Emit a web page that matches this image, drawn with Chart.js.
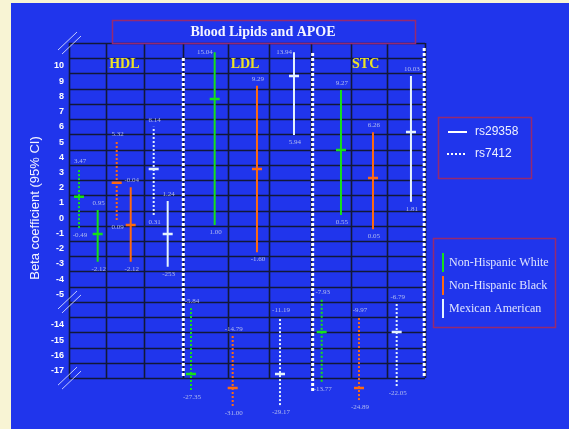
<!DOCTYPE html>
<html>
<head>
<meta charset="utf-8">
<title>Blood Lipids and APOE</title>
<script src="https://cdn.jsdelivr.net/npm/chart.js@4.4.1/dist/chart.umd.min.js"></script>
<style>
  html, body { margin: 0; padding: 0; background: #f8f4d4; }
  canvas { display: block; }
</style>
</head>
<body>
<canvas id="chart" width="569" height="429"></canvas>
<script>
// Blood lipids and APOE - beta coefficients (95% CI)
// The y axis is broken: plotted positions above -5 are the axis value,
// below the break position -7 stands for -14, -8 for -15 and so on.

const GROUPS = ['HDL', 'LDL', 'STC'];
const ETHNICITIES = ['Non-Hispanic White', 'Non-Hispanic Black', 'Mexican American'];
const SNPS = ['rs29358', 'rs7412'];

// rs29358 (solid), order: HDL NHW/NHB/MA, LDL ..., STC ...
const rs29358X = [0.725, 1.56, 2.495, 3.683, 4.752, 5.688, 6.876, 7.685, 8.645];
const rs29358High = [0.53, 2.03, 1.13, 10.89, 8.70, 10.89, 8.41, 5.64, 9.33];
const rs29358Mean = [-1.04, -0.45, -1.04, 7.82, 3.23, 9.33, 4.47, 2.64, 5.66];
const rs29358Low = [-2.86, -2.86, -3.19, -0.45, -2.24, 5.46, 0.21, -0.73, 1.08];
const rs29358HighText = ['0.95', '-0.04', '1.24', '15.04', '9.29', '13.94', '9.27', '6.26', '10.03'];
const rs29358LowText = ['-2.12', '-2.12', '-253', '1.00', '-1.60', '5.94', '0.55', '0.05', '1.81'];

// rs7412 (dotted)
const rs7412X = [0.253, 1.206, 2.141, 3.084, 4.138, 5.334, 6.388, 7.331, 8.284];
const rs7412High = [3.29, 5.07, 6.00, -5.92, -7.74, -6.51, -5.31, -6.51, -5.64];
const rs7412Mean = [1.41, 2.33, 3.23, -10.23, -11.15, -10.23, -7.48, -11.15, -7.48];
const rs7412Low = [-0.65, -0.12, 0.21, -11.28, -12.33, -12.27, -10.74, -11.94, -11.02];
const rs7412HighText = ['3.47', '5.32', '6.14', '-5.84', '-14.79', '-11.19', '-7.93', '-9.97', '-6.79'];
const rs7412LowText = ['-0.49', '0.09', '0.31', '-27.35', '-31.00', '-29.17', '-13.77', '-24.89', '-22.05'];

// column borders and tick labels of the broken axis
const columnEdges = [0, 0.945, 1.89, 2.89, 4.01, 5.06, 6.117, 7.128, 8.03, 9];
const groupLabelX = [1.4, 4.45, 7.5];
const tickLabels = {
    10: '10', 9: '9', 8: '8', 7: '7', 6: '6', 5: '5', 4: '4', 3: '3', 2: '2', 1: '1',
    0: '0', '-1': '-1', '-2': '-2', '-3': '-3', '-4': '-4', '-5': '-5',
    '-7': '-14', '-8': '-15', '-9': '-16', '-10': '-17'
};

const ETH_COLORS = ['#16e01a', '#ff6a10', '#e4f2ff'];
const BLUE = '#2035ec';
const GRID = '#121838';
const BOX = '#962a70';
const LABEL_COLOR = 'rgba(200,208,240,0.85)';

function buildDatasets() {
    const sets = [];
    const series = [
        { x: rs29358X, hi: rs29358High, mean: rs29358Mean, lo: rs29358Low, dash: [] },
        { x: rs7412X, hi: rs7412High, mean: rs7412Mean, lo: rs7412Low, dash: [2, 2] }
    ];
    series.forEach((s) => {
        s.x.forEach((x, i) => {
            const color = ETH_COLORS[i % 3];
            sets.push({
                type: 'line',
                data: [{ x: x, y: s.lo[i] }, { x: x, y: s.hi[i] }],
                borderColor: color,
                borderWidth: 2,
                borderDash: s.dash,
                pointRadius: 0
            });
            sets.push({
                type: 'scatter',
                data: [{ x: x, y: s.mean[i] }],
                pointStyle: 'line',
                pointRadius: 5,
                borderColor: color,
                borderWidth: 2.5,
                backgroundColor: color
            });
        });
    });
    return sets;
}

const backdrop = {
    id: 'backdrop',
    beforeDraw(chart) {
        const ctx = chart.ctx;
        ctx.save();
        ctx.fillStyle = '#f8f4d4';
        ctx.fillRect(0, 0, chart.width, chart.height);
        ctx.fillStyle = BLUE;
        ctx.fillRect(11, 3, chart.width - 11, chart.height - 3);
        ctx.restore();
    },
    beforeDatasetsDraw(chart) {
        const { ctx, scales: { x, y } } = chart;
        const top = y.getPixelForValue(11.5);
        const bottom = y.getPixelForValue(-10.5);
        const left = x.getPixelForValue(0);
        const right = x.getPixelForValue(9);
        ctx.save();
        ctx.strokeStyle = GRID;
        ctx.lineWidth = 1.6;
        for (let v = 11.5; v >= -10.5; v -= 1) {
            const py = Math.round(y.getPixelForValue(v)) + 0.5;
            ctx.beginPath();
            ctx.moveTo(left, py);
            ctx.lineTo(right, py);
            ctx.stroke();
        }
        columnEdges.forEach(c => {
            const px = Math.round(x.getPixelForValue(c)) + 0.5;
            ctx.beginPath();
            ctx.moveTo(px, top);
            ctx.lineTo(px, bottom);
            ctx.stroke();
        });

        // white dotted separators between the lipid groups
        ctx.strokeStyle = '#ffffff';
        ctx.lineWidth = 3;
        ctx.setLineDash([3, 2]);
        [[2.89, 10.52, -10.5], [6.16, 10.84, -11.42], [8.98, 11.17, -10.5]].forEach(([c, a, b]) => {
            const px = x.getPixelForValue(c);
            ctx.beginPath();
            ctx.moveTo(px, y.getPixelForValue(a));
            ctx.lineTo(px, y.getPixelForValue(b));
            ctx.stroke();
        });
        ctx.setLineDash([]);

        // axis break marks
        ctx.strokeStyle = 'rgba(225,230,255,0.85)';
        ctx.lineWidth = 1;
        [11.5, -5.5, -10.5].forEach(v => {
            const py = y.getPixelForValue(v);
            [-2, 2].forEach(o => {
                ctx.beginPath();
                ctx.moveTo(left - 9 + o, py + 9 + o);
                ctx.lineTo(left + 10 + o, py - 9 + o);
                ctx.stroke();
            });
        });

        // group names
        ctx.fillStyle = '#ece326';
        ctx.font = 'bold 14px "Liberation Serif", serif';
        ctx.textAlign = 'center';
        ctx.textBaseline = 'middle';
        GROUPS.forEach((g, i) => {
            ctx.fillText(g, x.getPixelForValue(groupLabelX[i]), y.getPixelForValue(10.1));
        });
        ctx.restore();
    },
    afterDatasetsDraw(chart) {
        const { ctx, scales: { x, y } } = chart;
        const topLimit = y.getPixelForValue(11.2);
        ctx.save();
        ctx.fillStyle = LABEL_COLOR;
        ctx.font = '7px "Liberation Serif", serif';
        ctx.textBaseline = 'middle';
        const series = [
            [rs29358X, rs29358High, rs29358Low, rs29358HighText, rs29358LowText],
            [rs7412X, rs7412High, rs7412Low, rs7412HighText, rs7412LowText]
        ];
        series.forEach(([xs, hi, lo, hiText, loText]) => {
            xs.forEach((v, i) => {
                const px = x.getPixelForValue(v);
                const ph = y.getPixelForValue(hi[i]);
                const pl = y.getPixelForValue(lo[i]);
                if (ph - 7 < topLimit) {
                    ctx.textAlign = 'right';
                    ctx.fillText(hiText[i], px - 2, ph);
                } else {
                    ctx.textAlign = 'center';
                    ctx.fillText(hiText[i], px + 1, ph - 7);
                }
                ctx.textAlign = 'center';
                ctx.fillText(loText[i], px + 1, pl + 7);
            });
        });
        ctx.restore();
    },
    afterDraw(chart) {
        const ctx = chart.ctx;
        ctx.save();
        // title box
        ctx.strokeStyle = BOX;
        ctx.lineWidth = 1.5;
        ctx.strokeRect(112.5, 20.5, 303, 23);
        ctx.fillStyle = '#f4f4ff';
        ctx.font = 'bold 14px "Liberation Serif", serif';
        ctx.textAlign = 'center';
        ctx.textBaseline = 'middle';
        ctx.fillText('Blood Lipids and APOE', 263, 32);

        // y title
        ctx.save();
        ctx.translate(35, 208);
        ctx.rotate(-Math.PI / 2);
        ctx.font = '13px "Liberation Sans", Arial, sans-serif';
        ctx.fillText('Beta coefficient (95% CI)', 0, 0);
        ctx.restore();

        // SNP legend
        ctx.strokeStyle = BOX;
        ctx.lineWidth = 1.5;
        ctx.strokeRect(438.5, 117.5, 93, 61);
        ctx.strokeStyle = '#ffffff';
        ctx.lineWidth = 2;
        ctx.beginPath();
        ctx.moveTo(448, 132);
        ctx.lineTo(467, 132);
        ctx.stroke();
        ctx.setLineDash([2, 2]);
        ctx.beginPath();
        ctx.moveTo(447, 154);
        ctx.lineTo(465, 154);
        ctx.stroke();
        ctx.setLineDash([]);
        ctx.fillStyle = '#eef0ff';
        ctx.font = '12px "Liberation Sans", Arial, sans-serif';
        ctx.textAlign = 'left';
        ctx.fillText(SNPS[0], 475, 132);
        ctx.fillText(SNPS[1], 475, 154);

        // ethnicity legend
        ctx.strokeStyle = BOX;
        ctx.lineWidth = 1.5;
        ctx.strokeRect(433.5, 238.5, 122, 89);
        ctx.font = '12px "Liberation Serif", serif';
        ETHNICITIES.forEach((name, i) => {
            const cy = 263 + i * 23;
            ctx.fillStyle = ETH_COLORS[i];
            ctx.fillRect(442, cy - 10, 2, 19);
            ctx.fillStyle = '#dfe4ff';
            ctx.fillText(name, 449, cy);
        });
        ctx.restore();
    }
};

function renderChart(ctx) {
    return new Chart(ctx, {
        type: 'scatter',
        data: { datasets: buildDatasets() },
        options: {
            responsive: false,
            animation: false,
            devicePixelRatio: 1,
            layout: { padding: { left: 0, right: 144, top: 35.4, bottom: 12.8 } },
            plugins: {
                legend: { display: false },
                tooltip: { enabled: false }
            },
            scales: {
                x: {
                    type: 'linear',
                    min: 0,
                    max: 9,
                    display: false
                },
                y: {
                    type: 'linear',
                    min: -13,
                    max: 12,
                    afterFit: (scale) => { scale.width = 69; },
                    grid: { display: false, drawTicks: false },
                    border: { display: false },
                    ticks: {
                        stepSize: 1,
                        padding: 5,
                        color: '#ffffff',
                        font: { family: '"Liberation Sans", Arial, sans-serif', size: 9, weight: 'bold' },
                        callback: (v) => tickLabels[v] !== undefined ? tickLabels[v] : ''
                    }
                }
            }
        },
        plugins: [backdrop]
    });
}

renderChart(document.getElementById('chart').getContext('2d'));
</script>
</body>
</html>
